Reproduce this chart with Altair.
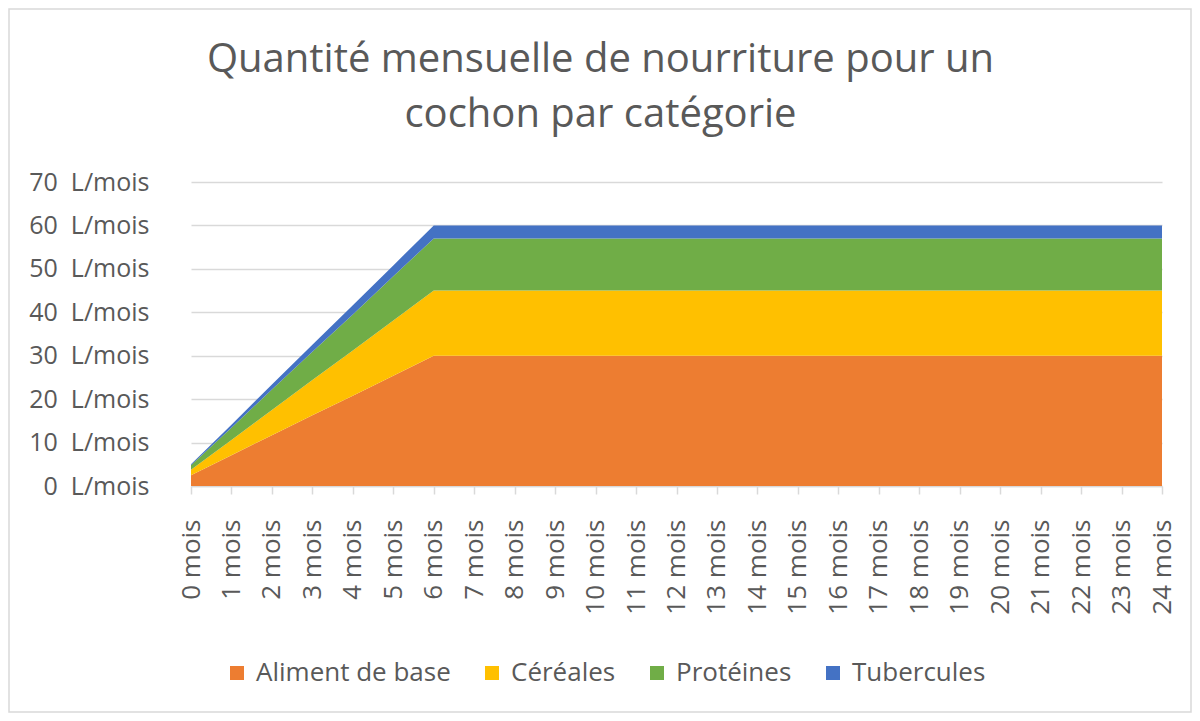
import altair as alt
import pandas as pd

# ---- data ----
months = ["0 mois", "1 mois", "2 mois", "3 mois", "4 mois", "5 mois", "6 mois",
          "7 mois", "8 mois", "9 mois", "10 mois", "11 mois", "12 mois", "13 mois",
          "14 mois", "15 mois", "16 mois", "17 mois", "18 mois", "19 mois", "20 mois",
          "21 mois", "22 mois", "23 mois", "24 mois"]

aliment = [2.5, 7.1, 11.7, 16.3, 20.8, 25.4, 30, 30, 30, 30, 30, 30, 30,
           30, 30, 30, 30, 30, 30, 30, 30, 30, 30, 30, 30]
cereales = [1.25, 3.5, 5.8, 8.1, 10.4, 12.7, 15, 15, 15, 15, 15, 15, 15,
            15, 15, 15, 15, 15, 15, 15, 15, 15, 15, 15, 15]
proteines = [1, 2.8, 4.7, 6.5, 8.3, 10.2, 12, 12, 12, 12, 12, 12, 12,
             12, 12, 12, 12, 12, 12, 12, 12, 12, 12, 12, 12]
tubercules = [0.25, 0.7, 1.2, 1.6, 2.1, 2.5, 3, 3, 3, 3, 3, 3, 3,
              3, 3, 3, 3, 3, 3, 3, 3, 3, 3, 3, 3]

series_names = ["Aliment de base", "Céréales", "Protéines", "Tubercules"]
series_colors = ["#ED7D31", "#FFC000", "#70AD47", "#4472C4"]
y_ticks = [0, 10, 20, 30, 40, 50, 60, 70]
y_unit = "L/mois"
title_lines = ["Quantité mensuelle de nourriture pour un", "cochon par catégorie"]

rows = []
for i, (name, vals) in enumerate(zip(series_names, [aliment, cereales, proteines, tubercules])):
    for m, v in zip(months, vals):
        rows.append({"mois": m, "valeur": v, "categorie": name, "ordre": i})
df = pd.DataFrame(rows)

FONT = "Open Sans"
GREY = "#595959"
LIGHT = "#D9D9D9"

area = alt.Chart(df).mark_area(opacity=1).encode(
    x=alt.X("mois:O", sort=months, scale=alt.Scale(type="point", padding=0),
            axis=alt.Axis(title=None, labelAngle=-90, labelFontSize=26, labelColor=GREY,
                          labelFont=FONT, domainColor=LIGHT, domainWidth=1.5,
                          tickColor=LIGHT, tickWidth=1.5, tickSize=8, labelPadding=25,
                          grid=False)),
    y=alt.Y("valeur:Q", stack="zero", scale=alt.Scale(domain=[0, 70], nice=False),
            axis=alt.Axis(title=None, values=y_ticks,
                          labelExpr="datum.value + '\u00a0\u00a0" + y_unit + "'",
                          labelFontSize=25, labelColor=GREY, labelFont=FONT,
                          domain=False, ticks=False, grid=True, gridColor=LIGHT,
                          gridWidth=1.5, labelPadding=42)),
    color=alt.Color("categorie:N",
                    scale=alt.Scale(domain=series_names, range=series_colors),
                    legend=alt.Legend(title=None, orient="none", direction="horizontal",
                                      legendX=33, legendY=478, symbolType="square",
                                      symbolSize=196, symbolOpacity=1, symbolStrokeWidth=0,
                                      labelFontSize=26, labelFont=FONT, labelColor=GREY,
                                      labelOffset=6, columnPadding=28, labelLimit=0)),
    order=alt.Order("ordre:Q", sort="ascending"),
)

border = alt.Chart(pd.DataFrame({"a": [0]})).mark_rect(
    fillOpacity=0, stroke=LIGHT, strokeWidth=1.5
).encode(x=alt.value(-182), x2=alt.value(1000), y=alt.value(-173), y2=alt.value(530))

chart = alt.layer(area, border).properties(
    width=971, height=304,
    padding={"left": 183, "top": 174, "right": 30, "bottom": 227},
    autosize=alt.AutoSizeParams(type="none"),
    title=alt.TitleParams(title_lines, fontSize=40, font=FONT, color=GREY,
                          fontWeight="normal", anchor="middle", dx=-76,
                          offset=50, dy=177, lineHeight=55),
).configure_view(stroke=None)

chart.save("out.html", embed_options={"renderer": "svg", "actions": False})
